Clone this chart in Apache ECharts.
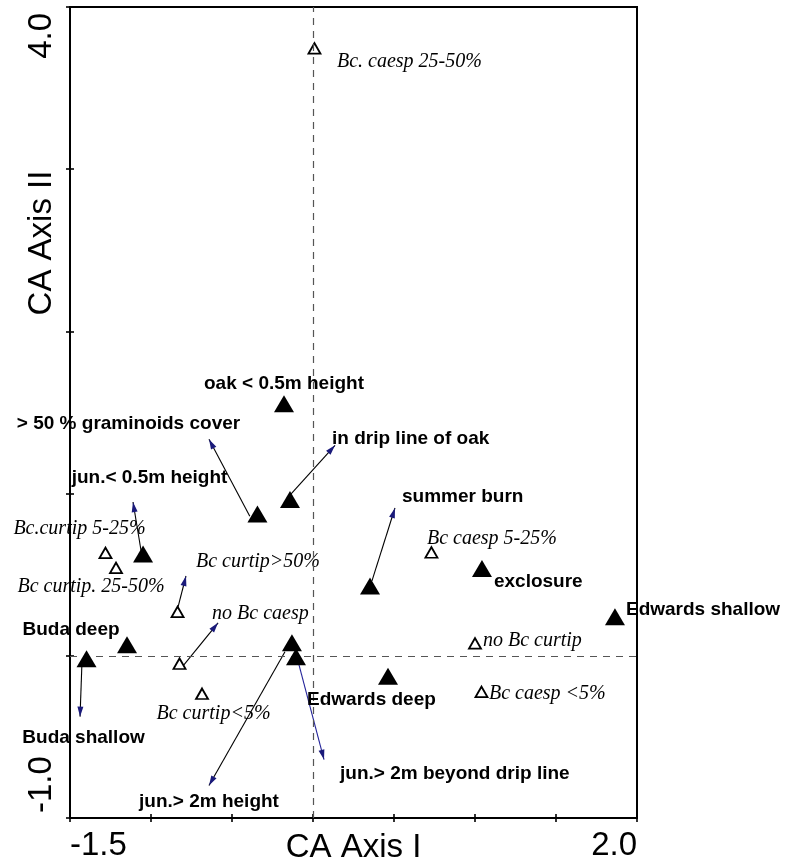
<!DOCTYPE html>
<html>
<head>
<meta charset="utf-8">
<script src="https://cdn.jsdelivr.net/npm/echarts@6/dist/echarts.min.js"></script>
<style>
  html, body { margin: 0; padding: 0; background: #fff; }
  #chart { width: 786px; height: 864px; }
</style>
</head>
<body>
<div id="chart"></div>
<script>
// Environmental / treatment centroids (filled triangles)
const siteX = [-0.179, -0.343, -0.142, 0.352, 1.043, 1.864, 0.463, -0.130, -0.105, -1.398, -1.148, -1.049];
const siteY = [1.554, 0.874, 0.963, 0.431, 0.538, 0.240, -0.126, 0.080, -0.006, -0.018, 0.068, 0.628];
const siteLabels = ['oak < 0.5m height', '', '', '', 'exclosure', 'Edwards shallow', 'Edwards deep', '', '', 'Buda deep', '', ''];

// Bouteloua cover classes (open triangles)
const coverX = [0.009, -1.281, -1.216, -0.836, -0.824, -0.685, 0.731, 1.000, 1.040];
const coverY = [3.745, 0.634, 0.542, 0.271, -0.049, -0.234, 0.637, 0.077, -0.222];
const coverLabels = ['Bc. caesp 25-50%', 'Bc.curtip 5-25%', 'Bc curtip. 25-50%', '', '', 'Bc curtip<5%', 'Bc caesp 5-25%', 'no Bc curtip', 'Bc caesp <5%'];

// Arrows: start point and tip
const arrowLabels = ['> 50 % graminoids cover', 'jun.< 0.5m height', 'in drip line of oak', 'summer burn', 'Buda shallow', 'jun.> 2m height', 'jun.> 2m beyond drip line', 'Bc curtip>50%', 'no Bc caesp'];
const arrowFromX = [-0.390, -1.060, -0.142, 0.364, -1.426, -0.173, -0.093, -0.833, -0.802];
const arrowFromY = [0.860, 0.640, 0.991, 0.462, -0.037, 0.025, -0.031, 0.302, -0.062];
const arrowToX = [-0.642, -1.111, 0.136, 0.506, -1.438, -0.642, 0.068, -0.784, -0.586];
const arrowToY = [1.335, 0.948, 1.298, 0.911, -0.375, -0.800, -0.640, 0.492, 0.203];

// Axis ranges and labelled ticks
const xRange = [-1.5, 2.0];
const yRange = [-1.0, 4.0];
const xTickValues = [-1.5, 2.0];
const xTickText = ['-1.5', '2.0'];
const yTickValues = [-1.0, 4.0];
const yTickText = ['-1.0', '4.0'];
const xTitle = 'CA Axis I';
const yTitle = 'CA Axis II';

// ---- layout / style (pixel offsets of labels from their anchor) ----
const siteLabelLayout = {
  0: [0, -19.5, 'center'],
  4: [12, 13.5, 'left'],
  5: [11, -7, 'left'],
  6: [-81, 23.5, 'left'],
  9: [-15.5, -28.5, 'center']
};
const coverLabelLayout = {
  0: [22.5, 13.5, 'left'],
  1: [-26, -24, 'center'],
  2: [-25, 19, 'center'],
  5: [11.5, 20, 'center'],
  6: [-4.5, -13.5, 'left'],
  7: [8, -3, 'left'],
  8: [7.5, 2, 'left']
};
const arrowLabelLayout = [
  [-80.5, -15, 'center'],
  [16.5, -24, 'center'],
  [-3, -6, 'left'],
  [7, -11, 'left'],
  [3.5, 21.5, 'center'],
  [0, 16, 'center'],
  [16, 14, 'left'],
  [10, -14, 'left'],
  [-6, -9, 'left']
];
const italicArrow = [false, false, false, false, false, false, false, true, true];

const SANS = 'Liberation Sans, Arial, Helvetica, sans-serif';
const SERIF = 'Liberation Serif, Times New Roman, serif';
const boldText = { fontFamily: SANS, fontWeight: 'bold', fontSize: 19, color: '#000', opacity: 1 };
const italicText = { fontFamily: SERIF, fontStyle: 'italic', fontWeight: 'normal', fontSize: 20, color: '#000', opacity: 1 };
const HEAD_COLOR = '#1a1a7a';
// arrowhead whose tip sits at the symbol centre
const HEAD_PATH = 'path://M0,0L3,10L-3,10ZM-0.01,-10L0.01,-10';

function itemLabel(text, layout, style) {
  if (!text || !layout) return { show: false };
  return Object.assign({
    show: true,
    position: 'inside',
    formatter: text,
    offset: [layout[0], layout[1]],
    align: layout[2],
    verticalAlign: 'middle'
  }, style);
}

function tickFormatter(values, texts, pick) {
  return function (v) {
    return Math.abs(v - values[pick]) < 1e-9 ? texts[pick] : '';
  };
}

const labelFont = { fontFamily: SANS, fontSize: 33, color: '#000' };
const tickStyle = { color: '#000', width: 1.6 };

function xAxisDef(pick, inside, align, withName) {
  return {
    type: 'value', position: 'bottom', min: xRange[0], max: xRange[1], interval: 0.5,
    axisLine: { show: false, onZero: false },
    axisTick: { show: true, inside: inside, length: 4, lineStyle: tickStyle },
    splitLine: { show: false },
    axisLabel: Object.assign({ margin: 11, align: align, formatter: tickFormatter(xTickValues, xTickText, pick) }, labelFont),
    name: withName ? xTitle : '',
    nameLocation: 'middle',
    nameGap: 13,
    nameMoveOverlap: false,
    nameTextStyle: labelFont
  };
}
function yAxisDef(pick, inside, align, pad) {
  return {
    type: 'value', position: 'left', min: yRange[0], max: yRange[1], interval: 1,
    axisLine: { show: false, onZero: false },
    axisTick: { show: true, inside: inside, length: 4, lineStyle: tickStyle },
    splitLine: { show: false },
    axisLabel: Object.assign({ margin: 12, rotate: 90, align: align, padding: pad, formatter: tickFormatter(yTickValues, yTickText, pick) }, labelFont)
  };
}

const chart = echarts.init(document.getElementById('chart'), null, { renderer: 'canvas' });

function headData(rotations) {
  return arrowLabels.map((name, i) => ({
    value: [arrowToX[i], arrowToY[i]],
    symbolRotate: rotations ? rotations[i] : 0,
    label: itemLabel(name, arrowLabelLayout[i], italicArrow[i] ? italicText : boldText)
  }));
}

const option = {
  animation: false,
  backgroundColor: '#fff',
  grid: {
    left: 70, top: 7, width: 567, height: 811,
    containLabel: false, outerBoundsMode: 'none',
    show: true, borderColor: '#000', borderWidth: 2, backgroundColor: 'transparent'
  },
  xAxis: [xAxisDef(0, false, 'left', true), xAxisDef(1, true, 'right', false)],
  yAxis: [yAxisDef(1, false, 'right', [0, 6, 0, 0]), yAxisDef(0, true, 'left', [0, 0, 0, 5])],
  graphic: [{
    type: 'text', x: 41.5, y: 243, rotation: Math.PI / 2, silent: true,
    style: { text: yTitle, font: '33px ' + SANS, fill: '#000', align: 'center', verticalAlign: 'middle', textAlign: 'center', textVerticalAlign: 'middle' }
  }],
  series: [
    {
      // origin reference lines
      type: 'scatter', xAxisIndex: 0, yAxisIndex: 0, data: [], z: 1, silent: true,
      markLine: {
        silent: true, symbol: 'none', animation: false,
        label: { show: false },
        lineStyle: { color: '#555', type: [7, 6], width: 1.2 },
        data: [{ xAxis: 0 }, { yAxis: 0 }]
      }
    },
    {
      type: 'lines', coordinateSystem: 'cartesian2d', xAxisIndex: 0, yAxisIndex: 0, z: 2, silent: true,
      symbol: 'none',
      lineStyle: { width: 1.1, opacity: 1 },
      data: arrowLabels.map((_, i) => ({
        coords: [[arrowFromX[i], arrowFromY[i]], [arrowToX[i], arrowToY[i]]],
        lineStyle: { color: i === 6 ? '#24249a' : '#000' }
      }))
    },
    {
      id: 'heads', type: 'scatter', xAxisIndex: 0, yAxisIndex: 0, z: 3, silent: true,
      symbol: HEAD_PATH, symbolSize: [6, 20],
      itemStyle: { color: HEAD_COLOR, opacity: 1 },
      data: headData(null)
    },
    {
      type: 'scatter', xAxisIndex: 0, yAxisIndex: 0, z: 4, silent: true,
      symbol: 'triangle', symbolSize: [12, 10.5],
      itemStyle: { color: '#fff', borderColor: '#000', borderWidth: 1.8, opacity: 1 },
      data: coverX.map((x, i) => ({ value: [x, coverY[i]], label: itemLabel(coverLabels[i], coverLabelLayout[i], italicText) }))
    },
    {
      type: 'scatter', xAxisIndex: 0, yAxisIndex: 0, z: 5, silent: true,
      symbol: 'triangle', symbolSize: [20, 17],
      itemStyle: { color: '#000', opacity: 1 },
      data: siteX.map((x, i) => ({ value: [x, siteY[i]], label: itemLabel(siteLabels[i], siteLabelLayout[i], boldText) }))
    }
  ]
};

chart.setOption(option);

// point each arrowhead along its shaft, measured in screen space
const rotations = arrowLabels.map((_, i) => {
  const p0 = chart.convertToPixel({ xAxisIndex: 0, yAxisIndex: 0 }, [arrowFromX[i], arrowFromY[i]]);
  const p1 = chart.convertToPixel({ xAxisIndex: 0, yAxisIndex: 0 }, [arrowToX[i], arrowToY[i]]);
  return Math.atan2(-(p1[1] - p0[1]), p1[0] - p0[0]) * 180 / Math.PI - 90;
});
chart.setOption({ series: [{ id: 'heads', data: headData(rotations) }] });
</script>
</body>
</html>
